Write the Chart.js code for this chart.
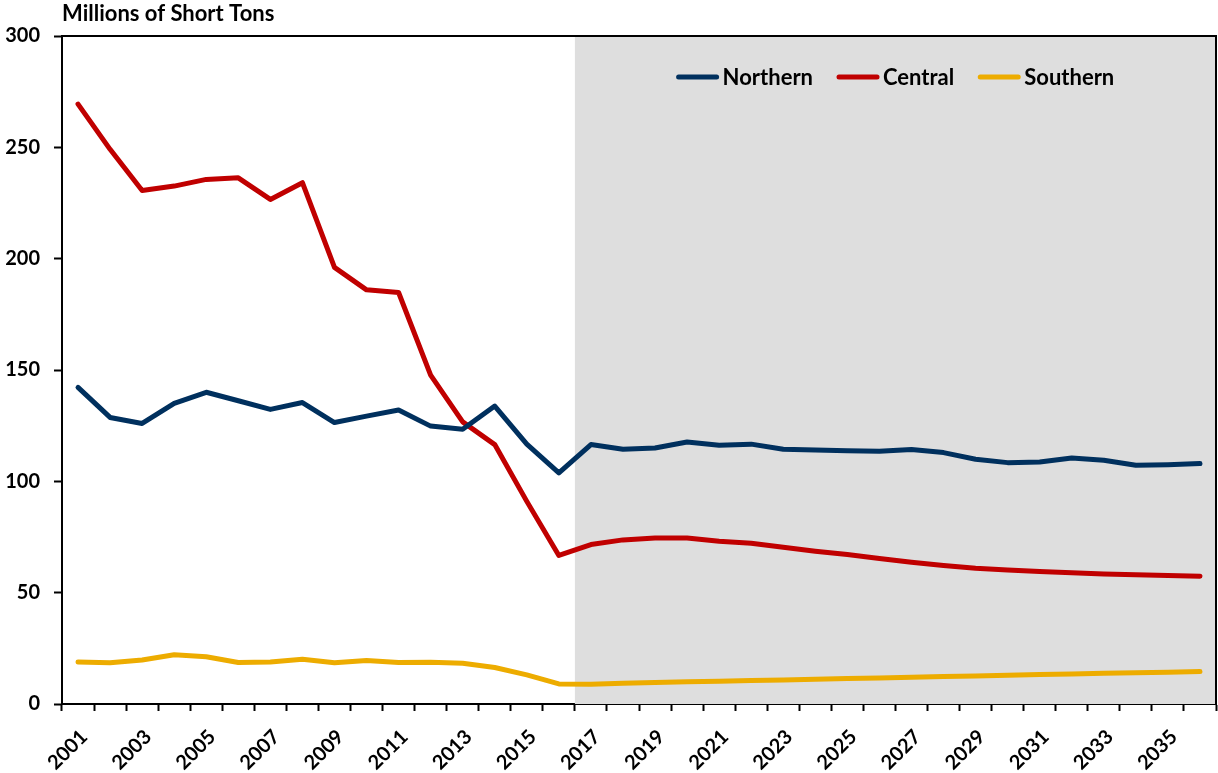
<!DOCTYPE html>
<html>
<head>
<meta charset="utf-8">
<script src="https://cdn.jsdelivr.net/npm/chart.js@4/dist/chart.umd.min.js"></script>
<style>
  html, body { margin: 0; padding: 0; background: #fff; }
  #wrap { width: 1218px; height: 773px; position: relative; }
</style>
</head>
<body>
<div id="wrap"><canvas id="grafico"></canvas></div>
<script>
// anos 2001..2036
var anos = [];
for (var a = 2001; a <= 2036; a++) anos.push(String(a));

var northern = [142.2, 128.7, 126.0, 135.0, 140.0, 136.2, 132.3, 135.4, 126.4, 129.3, 132.0, 124.8,
    123.4, 133.8, 116.7, 103.8, 116.5, 114.4, 115.0, 117.7, 116.2, 116.7, 114.4, 114.1,
    113.7, 113.5, 114.3, 112.9, 109.9, 108.4, 108.7, 110.5, 109.5, 107.2, 107.5, 108.0];
var central = [269.4, 249.1, 230.6, 232.6, 235.6, 236.3, 226.6, 234.1, 196.1, 186.0, 184.8, 147.7,
    126.7, 116.5, 91.0, 66.7, 71.6, 73.7, 74.6, 74.6, 73.1, 72.2, 70.4, 68.6,
    67.1, 65.3, 63.7, 62.2, 61.0, 60.2, 59.5, 58.9, 58.4, 58.1, 57.7, 57.4];
var southern = [18.9, 18.5, 19.8, 22.1, 21.2, 18.6, 18.9, 20.1, 18.5, 19.5, 18.6, 18.8,
    18.3, 16.4, 13.1, 9.0, 8.9, 9.3, 9.7, 10.0, 10.2, 10.5, 10.8, 11.1,
    11.4, 11.7, 12.0, 12.3, 12.6, 12.9, 13.2, 13.5, 13.8, 14.0, 14.3, 14.6];

var yTicks = [0, 50, 100, 150, 200, 250, 300];
var ultimoHistorico = '2016';
var tituloEixo = 'Millions of Short Tons';

var fonte = 'Lato, "Open Sans", sans-serif';

// fundo cinza da projeção + moldura + legenda
var extras = {
    id: 'extras',
    beforeDatasetsDraw: function (chart) {
        var ctx = chart.ctx, area = chart.chartArea, x = chart.scales.x;
        var i = anos.indexOf(ultimoHistorico);
        var inicio = (x.getPixelForValue(i) + x.getPixelForValue(i + 1)) / 2;
        ctx.save();
        ctx.fillStyle = '#dedede';
        ctx.fillRect(inicio, area.top, area.right - inicio, area.bottom - area.top);
        ctx.restore();
    },
    afterDraw: function (chart) {
        var ctx = chart.ctx, area = chart.chartArea, x = chart.scales.x;
        ctx.save();
        ctx.strokeStyle = '#000';
        ctx.lineWidth = 2;
        ctx.beginPath();
        ctx.moveTo(area.left, area.top);
        ctx.lineTo(area.right, area.top);
        ctx.lineTo(area.right, area.bottom);
        ctx.stroke();

        ctx.fillStyle = '#000';
        ctx.font = 'bold 22px ' + fonte;
        ctx.textBaseline = 'middle';
        ctx.textAlign = 'left';
        ctx.fillText(tituloEixo, area.left, 14);

        // legenda centrada na área sombreada
        var i = anos.indexOf(ultimoHistorico);
        var inicio = (x.getPixelForValue(i) + x.getPixelForValue(i + 1)) / 2;
        var centro = (inicio + area.right) / 2;
        var linha = 42, gap = 4, entre = 24;
        ctx.font = 'bold 22px ' + fonte;
        var larguras = chart.data.datasets.map(function (d) {
            return linha + gap + ctx.measureText(d.label).width;
        });
        var total = larguras.reduce(function (s, w) { return s + w; }, 0) + entre * (larguras.length - 1);
        var px = centro - total / 2;
        var py = 77;
        chart.data.datasets.forEach(function (d, k) {
            ctx.strokeStyle = d.borderColor;
            ctx.lineWidth = 5;
            ctx.lineCap = 'round';
            ctx.beginPath();
            ctx.moveTo(px + 2, py);
            ctx.lineTo(px + linha - 2, py);
            ctx.stroke();
            ctx.fillStyle = '#000';
            ctx.fillText(d.label, px + linha + gap, py + 1);
            px += larguras[k] + entre;
        });
        ctx.restore();
    }
};

new Chart(document.getElementById('grafico'), {
    type: 'line',
    data: {
        labels: anos,
        datasets: [
            { label: 'Northern', data: northern, borderColor: '#00305e', backgroundColor: '#00305e' },
            { label: 'Central', data: central, borderColor: '#c00000', backgroundColor: '#c00000' },
            { label: 'Southern', data: southern, borderColor: '#edac00', backgroundColor: '#edac00' }
        ]
    },
    options: {
        responsive: true,
        maintainAspectRatio: false,
        animation: false,
        layout: { padding: { top: 36, right: 2, left: 0, bottom: 0 } },
        elements: {
            line: { borderWidth: 5, tension: 0, borderCapStyle: 'round', borderJoinStyle: 'round' },
            point: { radius: 0 }
        },
        plugins: {
            legend: { display: false },
            title: { display: false },
            tooltip: { enabled: false }
        },
        scales: {
            x: {
                type: 'category',
                offset: true,
                afterFit: function (s) {
                    s.height = 69;
                    s.paddingLeft = 0;
                    s.paddingRight = 0;
                },
                grid: {
                    offset: true,
                    drawOnChartArea: false,
                    drawTicks: true,
                    tickLength: 7,
                    tickWidth: 2,
                    tickColor: '#000'
                },
                border: { color: '#000', width: 2 },
                ticks: {
                    autoSkip: false,
                    minRotation: 45,
                    maxRotation: 45,
                    padding: 14,
                    labelOffset: 6,
                    color: '#000',
                    font: { family: fonte, size: 20, weight: 'bold' },
                    callback: function (v, i) { return i % 2 === 0 ? anos[i] : ''; }
                }
            },
            y: {
                min: 0,
                max: 300,
                afterFit: function (s) { s.width = 62; },
                afterBuildTicks: function (s) { s.ticks = yTicks.map(function (v) { return { value: v }; }); },
                grid: {
                    drawOnChartArea: false,
                    drawTicks: true,
                    tickLength: 8,
                    tickWidth: 2,
                    tickColor: '#000'
                },
                border: { color: '#000', width: 2 },
                ticks: {
                    padding: 14,
                    color: '#000',
                    font: { family: fonte, size: 20, weight: 'bold' }
                }
            }
        }
    },
    plugins: [extras]
});
</script>
</body>
</html>
